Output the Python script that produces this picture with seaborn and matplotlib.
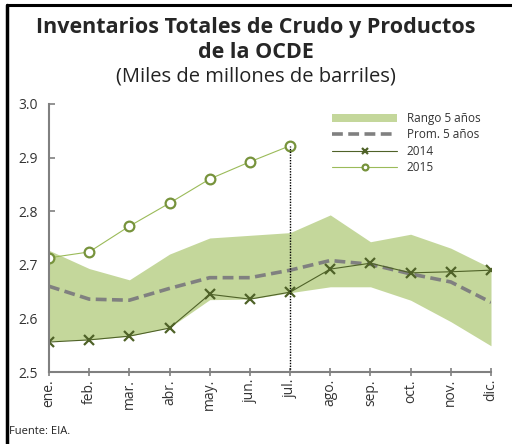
import matplotlib
matplotlib.use("Agg")
import matplotlib.pyplot as plt
import seaborn as sns
import pandas as pd
from matplotlib.lines import Line2D

meses = ["ene.", "feb.", "mar.", "abr.", "may.", "jun.", "jul.",
         "ago.", "sep.", "oct.", "nov.", "dic."]
rango_min = [2.558, 2.560, 2.567, 2.583, 2.635, 2.636, 2.648,
             2.659, 2.659, 2.634, 2.594, 2.549]
rango_max = [2.727, 2.693, 2.672, 2.720, 2.750, 2.755, 2.760,
             2.793, 2.743, 2.757, 2.731, 2.694]
prom_5 = [2.660, 2.636, 2.634, 2.656, 2.676, 2.676, 2.690,
          2.708, 2.701, 2.683, 2.668, 2.630]
y2014 = [2.556, 2.560, 2.567, 2.582, 2.645, 2.636, 2.649,
         2.692, 2.703, 2.685, 2.687, 2.690]
y2015 = [2.713, 2.724, 2.772, 2.815, 2.860, 2.892, 2.922]

sns.set_theme(style="white")
plt.rcParams["font.family"] = ["Open Sans", "DejaVu Sans"]

df = pd.DataFrame({"mes": range(len(meses)), "prom": prom_5, "y2014": y2014})
df15 = pd.DataFrame({"mes": range(len(y2015)), "y2015": y2015})

fig = plt.figure(figsize=(5.12, 4.44), dpi=100)
ax = fig.add_axes([0.0957, 0.162, 0.8633, 0.604])

ax.fill_between(df["mes"], rango_min, rango_max, color="#c4d79b", lw=0,
                label="Rango 5 años")
sns.lineplot(data=df, x="mes", y="prom", ax=ax, color="#808080", lw=2.6,
             dashes=False, label="Prom. 5 años")
ax.lines[-1].set_linestyle((0, (3, 1.5)))
sns.lineplot(data=df, x="mes", y="y2014", ax=ax, color="#4f6228", lw=0.8,
             marker="x", markersize=6.5, markeredgewidth=1.6,
             markeredgecolor="#4f6228", label="2014")
sns.lineplot(data=df15, x="mes", y="y2015", ax=ax, color="#9bbb59", lw=0.8,
             marker="o", markersize=7, markerfacecolor="white",
             markeredgewidth=1.6, markeredgecolor="#77933c", label="2015")

# dotted marker at the last month of 2015
ax.plot([6, 6], [2.5, y2015[-1]], color="black", lw=1, ls=(0, (1, 1)))

ax.set_xlim(0, 11)
ax.set_ylim(2.5, 3.0)
ax.set_xticks(range(len(meses)))
ax.set_xticklabels(meses, rotation=90, fontsize=10, color="#333333")
ax.set_yticks([2.5, 2.6, 2.7, 2.8, 2.9, 3.0])
ax.set_yticklabels(["2.5", "2.6", "2.7", "2.8", "2.9", "3.0"],
                   fontsize=10, color="#333333")
ax.set_xlabel("")
ax.set_ylabel("")
for s in ["top", "right"]:
    ax.spines[s].set_visible(False)
for s in ["left", "bottom"]:
    ax.spines[s].set_color("#808080")
    ax.spines[s].set_linewidth(1.5)
ax.tick_params(axis="x", direction="inout", length=6, width=1.2,
               color="#808080", pad=2, bottom=True)
ax.tick_params(axis="y", direction="in", length=4, width=1.2,
               color="#808080", pad=8, left=True)

ax.legend(loc="upper right", bbox_to_anchor=(1.0, 1.01), frameon=False,
          fontsize=8.5, handlelength=5.5, labelspacing=0.3,
          handletextpad=0.8, labelcolor="#333333", markerscale=0.6)

fig.text(0.5, 0.939, "Inventarios Totales de Crudo y Productos",
         ha="center", va="center", fontsize=15.5, fontweight="bold")
fig.text(0.5, 0.881, "de la OCDE",
         ha="center", va="center", fontsize=15.5, fontweight="bold")
fig.text(0.5, 0.827, "(Miles de millones de barriles)", ha="center",
         va="center", fontsize=14.5, color="#222222")
fig.text(0.018, 0.022, "Fuente: EIA.", fontsize=8, color="#222222")

fig.add_artist(Line2D([0.013, 1.0], [0.989, 0.989], color="black", lw=2.2))
fig.add_artist(Line2D([0.013, 0.013], [0.0, 0.989], color="black", lw=2.5))

fig.savefig("out.png", dpi=100)
